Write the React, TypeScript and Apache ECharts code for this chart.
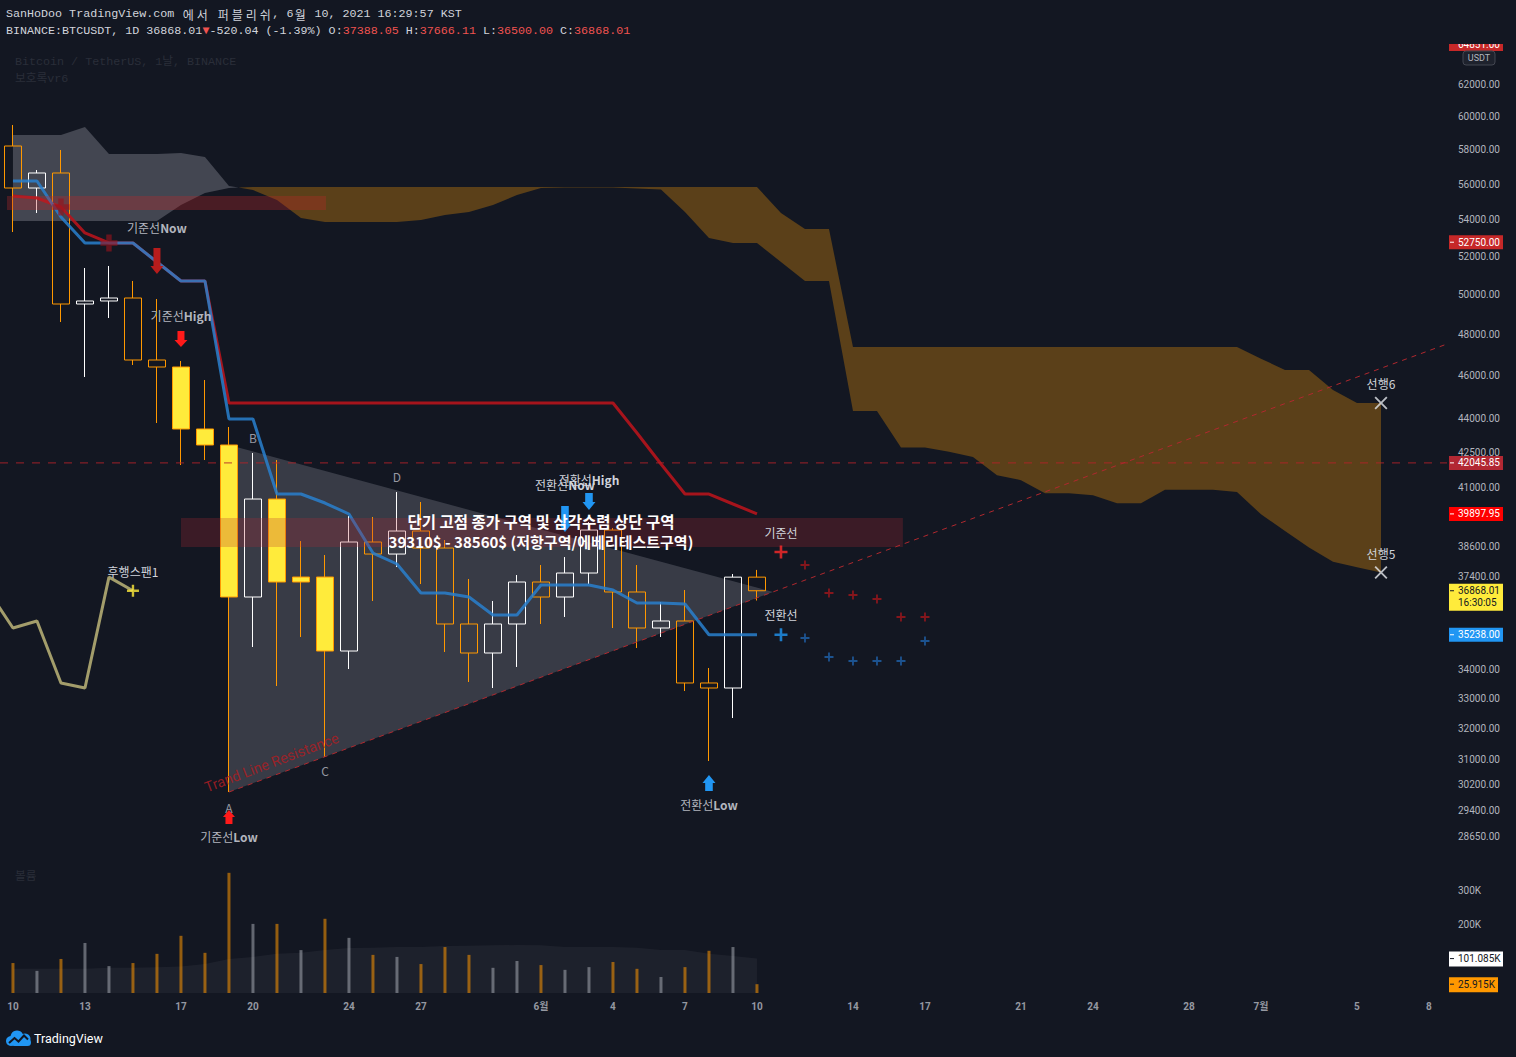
import React, { useEffect, useRef } from "react";
import * as echarts from "echarts";

// ---------------- data ----------------
const candleDays = [0, 1, 2, 3, 4, 5, 6, 7, 8, 9, 10, 11, 12, 13, 14, 15, 16, 17, 18, 19, 20, 21, 22, 23, 24, 25, 26, 27, 28, 29, 30, 31];
const opens = [58232, 55772, 56639, 49504, 49657, 49810, 46735, 46400, 43536, 42826, 36632, 40513, 37201, 37392, 34654, 38762, 38286, 39202, 38523, 35630, 34583, 35630, 37201, 36632, 37546, 39242, 36821, 35483, 35740, 33534, 33361, 37388.05];
const closes = [55772, 56639, 49504, 49657, 49810, 46735, 46400, 43536, 42826, 36632, 40513, 37201, 37392, 34654, 38762, 38286, 39202, 38523, 35630, 34583, 35630, 37201, 36632, 37546, 39242, 36821, 35483, 35740, 33534, 33361, 37388.05, 36868.01];
const highs = [59503, 56813, 57994, 51370, 51476, 50689, 49759, 46687, 45784, 43625, 42475, 42170, 38801, 38247, 39811, 39770, 40805, 40389, 38841, 37315, 36482, 37469, 37856, 38168, 39567, 39323, 37856, 36444, 36897, 34054, 37508, 37666.11];
const lows = [53306, 54358, 48596, 45926, 48797, 46496, 43805, 41954, 42170, 29979, 34797, 33430, 35157, 31077, 34019, 36482, 37778, 37124, 34619, 33568, 33361, 34090, 35630, 35887, 37124, 35483, 34761, 35157, 33259, 30950, 32348, 36500];
const highlightedBars = [7, 8, 9, 11, 12, 13];

const tenkan = [56176, 56176, 54135, 52708, 52708, 52708, 51688, 50689, 50689, 43985, 43985, 40722, 40722, 40347, 39894, 38326, 37896, 36783, 36783, 36632, 35961, 35961, 37087, 37087, 37087, 36897, 36407, 36407, 36370, 35238, 35238, 35238];
const kijun = [55316, 55202, 54694, 53252, 52708, 52708, 51688, 50689, 50689, 44715, 44715, 44715, 44715, 44715, 44715, 44715, 44715, 44715, 44715, 44715, 44715, 44715, 44715, 44715, 44715, 44715, 43357, 41997, 40722, 40722, 40306, 39897.95];

const spanA = [58894, 58894, 58894, 59381, 57756, 57756, 57756, 57815, 57578, 55887, 55658, 55089, 54079, 53857, 53857, 53857, 53857, 53967, 54246, 54414, 54806, 55373, 55772, 55800, 55800, 55800, 55746, 55689, 54415, 52980, 52708, 52708, 51688, 50689, 50689, 44350, 44350, 42718, 42718, 42531, 42305, 41520, 41306, 40749, 40749, 40674, 40338, 40338, 40901, 40901, 40901, 40806, 39882, 39202, 38546, 37980, 37772, 37568];
const spanB = [53912, 53912, 53912, 53912, 53912, 53912, 53912, 54806, 55486, 55772, 55830, 55830, 55830, 55830, 55830, 55830, 55830, 55830, 55830, 55830, 55830, 55830, 55830, 55830, 55830, 55830, 55830, 55830, 55830, 55830, 55830, 55830, 54358, 53471, 53471, 47364, 47364, 47364, 47364, 47364, 47364, 47364, 47364, 47364, 47364, 47364, 47364, 47364, 47364, 47364, 47364, 47364, 46800, 46258, 46258, 45316, 44715, 44715];

const futureDays = [32, 33, 34, 35, 36, 37, 38];
const futureKijun = [38366, 37856, 36783, 36707, 36557, 35887, 35887];
const futureTenkan = [35238, 35120, 34441, 34300, 34300, 34300, 35013];

const volumes = [88000, 65000, 100000, 147000, 79000, 88000, 115000, 168000, 118000, 353000, 203000, 203000, 126000, 218000, 162000, 112000, 106000, 85000, 135000, 112000, 74000, 94000, 82000, 68000, 76000, 91000, 71000, 47000, 76000, 124000, 135000, 25915];
const volumeMA = [71000, 71000, 71000, 71000, 74000, 74000, 76000, 78000, 85000, 100000, 106000, 115000, 118000, 126000, 132000, 133000, 135000, 135000, 138000, 139000, 140000, 141000, 140000, 135000, 135000, 135000, 133000, 126000, 126000, 115000, 109000, 101085];

const tickDays = [0, 3, 7, 10, 14, 17, 22, 25, 28, 31, 35, 38, 42, 45, 49, 52, 56, 59];
const tickLabels = ["10", "13", "17", "20", "24", "27", "6월", "4", "7", "10", "14", "17", "21", "24", "28", "7월", "5", "8"];
const priceTicks = [62000, 60000, 58000, 56000, 54000, 52000, 50000, 48000, 46000, 44000, 42500, 41000, 38600, 37400, 34000, 33000, 32000, 31000, 30200, 29400, 28650];
const volumeTicks = [200000, 300000];

const kijunMarks = [[2, 54694], [4, 52708]];
const triangle = [[9, 42826], [9, 29979], [31.67, 36821]];
const trendLine = [[9, 29979], [59.75, 47510]];
const levelLine = 42045.85;
const resistanceZone = { from: 7, to: 37.08, top: 39730, bottom: 38563 };
const kijunBand = { from: -0.25, to: 13.04, top: 55316, bottom: 54525 };

// ---------------- styles ----------------
const BG = "#131722";
const X_MIN = -0.54;
const X_MAX = 59.75;
const ORANGE = "#ff9800";
const YELLOW = "#ffeb3b";
const GRAY_CLOUD = "#434651";
const BROWN_CLOUD = "#5b4019";
const LABEL = "#b2b5be";
const KR = "'Noto Sans CJK KR', 'Noto Sans', sans-serif";
const MONO = "'Liberation Mono', 'DejaVu Sans Mono', 'Noto Sans CJK KR', monospace";
const PLUS = "path://M4,0H6V4H10V6H6V10H4V6H0V4H4Z";
const PLUS_THICK = "path://M3.4,0H6.6V3.4H10V6.6H6.6V10H3.4V6.6H0V3.4H3.4Z";
const CROSS_X = "path://M1,0L5,4L9,0L10,1L6,5L10,9L9,10L5,6L1,10L0,9L4,5L0,1Z";

function buildOption(): any {
  const chikouDays = [-1, 0, 1, 2, 3, 4, 5];
  const chikou = chikouDays.map((d, i) => [d, closes[25 + i]]);
  return {
    animation: false,
    backgroundColor: BG,
    grid: [
      { left: 0, right: 69, top: 44, height: 816 },
      { left: 0, right: 69, top: 865, height: 128 },
    ],
    xAxis: [
      { type: "value", gridIndex: 0, min: X_MIN, max: X_MAX, show: false },
      {
        type: "value", gridIndex: 1, min: X_MIN, max: X_MAX,
        axisLine: { show: false }, axisTick: { show: false }, splitLine: { show: false },
        axisLabel: {
          customValues: tickDays,
          formatter: (v: number) => { const i = tickDays.indexOf(Math.round(v)); return i >= 0 && Math.abs(v - Math.round(v)) < 1e-6 ? tickLabels[i] : ""; },
          color: "#9598a1", fontSize: 10, fontWeight: "bold", fontFamily: "Roboto, " + KR, margin: 8,
        },
      },
    ],
    yAxis: [
      { type: "log", logBase: 10, gridIndex: 0, min: 27956, max: 64668, show: false },
      {
        type: "value", gridIndex: 1, min: 0, max: 376000, position: "right",
        axisLine: { show: false }, axisTick: { show: false }, splitLine: { show: false },
        axisLabel: {
          customValues: volumeTicks,
          formatter: (v: number) => (volumeTicks.includes(v) ? v / 1000 + "K" : ""),
          color: LABEL, fontSize: 10, fontFamily: "Roboto", margin: 11,
        },
      },
    ],
    series: [
      {
        type: "custom", name: "cloud", xAxisIndex: 0, yAxisIndex: 0, z: 1, silent: true,
        data: [[0, spanA[0]]],
        renderItem: (_p: any, api: any) => {
          const n = spanA.length;
          const pa = spanA.map((v, d) => api.coord([d, v]));
          const pb = spanB.map((v, d) => api.coord([d, v]));
          const polys: any[] = [];
          let sign = Math.sign(spanA[0] - spanB[0]) || 1;
          let runA: number[][] = [pa[0]];
          let runB: number[][] = [pb[0]];
          for (let d = 1; d < n; d++) {
            const s = Math.sign(spanA[d] - spanB[d]) || sign;
            if (s !== sign) {
              const da = pa[d - 1][1] - pb[d - 1][1];
              const db = pa[d][1] - pb[d][1];
              const t = da / (da - db);
              const ip = [pa[d - 1][0] + t * (pa[d][0] - pa[d - 1][0]), pa[d - 1][1] + t * (pa[d][1] - pa[d - 1][1])];
              runA.push(ip); runB.push(ip);
              polys.push({ sign, pts: runA.concat(runB.slice().reverse()) });
              runA = [ip]; runB = [ip]; sign = s;
            }
            runA.push(pa[d]); runB.push(pb[d]);
          }
          polys.push({ sign, pts: runA.concat(runB.slice().reverse()) });
          return {
            type: "group",
            children: polys.map((p) => ({ type: "polygon", shape: { points: p.pts }, style: { fill: p.sign > 0 ? GRAY_CLOUD : BROWN_CLOUD } })),
          };
        },
      },
      {
        type: "custom", name: "triangle", xAxisIndex: 0, yAxisIndex: 0, z: 1, silent: true,
        data: [[triangle[0][0], triangle[0][1]]],
        renderItem: (_p: any, api: any) => ({
          type: "polygon", shape: { points: triangle.map((pt) => api.coord(pt)) }, style: { fill: "rgba(120,123,134,0.37)" },
        }),
      },
      {
        type: "candlestick", name: "BTCUSDT", xAxisIndex: 0, yAxisIndex: 0, z: 2, barWidth: 18,
        encode: { x: 0, y: [1, 2, 3, 4] },
        itemStyle: { color: "rgba(0,0,0,0)", color0: "rgba(0,0,0,0)", borderColor: "#ffffff", borderColor0: ORANGE, borderWidth: 1 },
        data: candleDays.map((d, i) => {
          const item: any = { value: [d, opens[i], closes[i], lows[i], highs[i]] };
          if (highlightedBars.includes(i)) item.itemStyle = { color: YELLOW, color0: YELLOW, borderColor: ORANGE, borderColor0: ORANGE };
          return item;
        }),
      },
      {
        type: "line", name: "기준선", xAxisIndex: 0, yAxisIndex: 0, z: 3, showSymbol: false, symbol: "none",
        lineStyle: { color: "rgba(183,20,28,0.9)", width: 3 },
        data: kijun.map((v, i) => [candleDays[i], v]),
      },
      {
        type: "line", name: "전환선", xAxisIndex: 0, yAxisIndex: 0, z: 3, showSymbol: false, symbol: "none",
        lineStyle: { color: "rgba(41,128,206,0.85)", width: 3 },
        data: tenkan.map((v, i) => [candleDays[i], v]),
      },
      {
        type: "line", name: "후행스팬", xAxisIndex: 0, yAxisIndex: 0, z: 3, showSymbol: false, symbol: "none",
        lineStyle: { color: "#a39d6b", width: 3 },
        data: chikou,
      },
      {
        type: "custom", name: "zones", xAxisIndex: 0, yAxisIndex: 0, z: 4, silent: true,
        data: [[resistanceZone.from, resistanceZone.top]],
        renderItem: (_p: any, api: any) => {
          const r = (z: any, fill: string) => {
            const a = api.coord([z.from, z.top]);
            const b = api.coord([z.to, z.bottom]);
            return { type: "rect", shape: { x: a[0], y: a[1], width: b[0] - a[0], height: b[1] - a[1] }, style: { fill } };
          };
          const t0 = api.coord(trendLine[0]);
          const t1 = api.coord(trendLine[1]);
          const h0 = api.coord([X_MIN, levelLine]);
          const h1 = api.coord([X_MAX, levelLine]);
          return {
            type: "group",
            children: [
              r(resistanceZone, "rgba(178,40,51,0.25)"),
              r(kijunBand, "rgba(190,40,40,0.32)"),
              { type: "line", shape: { x1: t0[0], y1: t0[1], x2: t1[0], y2: t1[1] }, style: { stroke: "#b0282e", lineWidth: 1, lineDash: [5, 5] } },
              { type: "line", shape: { x1: h0[0], y1: h0[1], x2: h1[0], y2: h1[1] }, style: { stroke: "rgba(178,34,40,0.7)", lineWidth: 1.3, lineDash: [8, 8] } },
            ],
          };
        },
      },
      {
        type: "scatter", name: "futureKijun", xAxisIndex: 0, yAxisIndex: 0, z: 5, symbol: PLUS,
        symbolSize: (_v: any, p: any) => (p.dataIndex === 0 ? 13 : 9),
        itemStyle: { color: (p: any) => (p.dataIndex === 0 ? "#ff2a2a" : "#a3161b") },
        data: futureDays.map((d, i) => [d, futureKijun[i]]),
      },
      {
        type: "scatter", name: "futureTenkan", xAxisIndex: 0, yAxisIndex: 0, z: 5, symbol: PLUS,
        symbolSize: (_v: any, p: any) => (p.dataIndex === 0 ? 13 : 9),
        itemStyle: { color: (p: any) => (p.dataIndex === 0 ? "#2196f3" : "#1f63ad") },
        data: futureDays.map((d, i) => [d, futureTenkan[i]]),
      },
      {
        type: "scatter", name: "kijunMarks", xAxisIndex: 0, yAxisIndex: 0, z: 5, symbol: PLUS_THICK, symbolSize: 17,
        itemStyle: { color: "rgba(150,18,28,0.8)" },
        data: kijunMarks,
      },
      {
        type: "scatter", name: "chikouEnd", xAxisIndex: 0, yAxisIndex: 0, z: 5, symbol: PLUS, symbolSize: 12,
        itemStyle: { color: YELLOW },
        data: [chikou[chikou.length - 1]],
      },
      {
        type: "scatter", name: "spanEnds", xAxisIndex: 0, yAxisIndex: 0, z: 5, symbol: CROSS_X, symbolSize: 13,
        itemStyle: { color: "#e6e8ee" },
        data: [[spanA.length - 1, spanB[spanB.length - 1]], [spanA.length - 1, spanA[spanA.length - 1]]],
      },
      {
        type: "line", name: "volMA", xAxisIndex: 1, yAxisIndex: 1, z: 1, showSymbol: false, symbol: "none",
        lineStyle: { width: 0 }, areaStyle: { color: "rgba(120,123,134,0.15)" },
        data: volumeMA.map((v, i) => [candleDays[i], v]),
      },
      {
        type: "bar", name: "볼륨", xAxisIndex: 1, yAxisIndex: 1, z: 2, barWidth: 3,
        data: volumes.map((v, i) => ({
          value: [candleDays[i], v],
          itemStyle: { color: closes[i] >= opens[i] ? "rgba(178,181,190,0.5)" : "rgba(255,152,0,0.55)" },
        })),
      },
    ],
  };
}

function buildGraphics(chart: any): any[] {
  const P = (d: number, v: number) => chart.convertToPixel({ gridIndex: 0 }, [d, v]);
  const Y = (v: number) => chart.convertToPixel({ yAxisIndex: 0 }, v);
  const YV = (v: number) => chart.convertToPixel({ yAxisIndex: 1 }, v);
  const els: any[] = [];
  const text = (x: number, y: number, t: string, fill: string, font: string, align = "left", extra: any = {}) => ({
    type: "text", x, y, z: 100, ...extra,
    style: { text: t, fill, font, align, textAlign: align, verticalAlign: "middle", textVerticalAlign: "middle", ...(extra.style || {}) },
  });

  // header (hangul drawn as double-width cells like the monospace source)
  const monoRich = (s: string, cls: string) =>
    Array.from(s).map((ch) => (/[\uac00-\ud7a3]/.test(ch) ? `{h|${ch}}` : `{${cls}|${ch}}`)).join("");
  const red = "#ef5350";
  const richStyles = {
    w: { fill: "#d1d4dc", color: "#d1d4dc", font: "11.7px " + MONO },
    r: { fill: red, color: red, font: "11.7px " + MONO },
    h: { fill: "#d1d4dc", color: "#d1d4dc", font: "12px " + KR, width: 14, align: "center" },
  };
  const line1 = "SanHoDoo TradingView.com 에서 퍼블리쉬, 6월 10, 2021 16:29:57 KST";
  els.push({
    type: "text", x: 6, y: 14, z: 100,
    style: { text: monoRich(line1, "w"), verticalAlign: "middle", textVerticalAlign: "middle", rich: richStyles },
  });
  els.push({
    type: "text", x: 6, y: 31, z: 100,
    style: {
      text: "{w|BINANCE:BTCUSDT, 1D 36868.01}{r|▼}{w|-520.04 (-1.39%) O:}{r|37388.05}{w| H:}{r|37666.11}{w| L:}{r|36500.00}{w| C:}{r|36868.01}",
      verticalAlign: "middle", textVerticalAlign: "middle", rich: richStyles,
    },
  });
  els.push(text(15, 62, "Bitcoin / TetherUS, 1날, BINANCE", "#2a2e39", "11.7px " + MONO));
  els.push(text(15, 79, "보호록vr6", "#2a2e39", "11.7px " + MONO));
  els.push(text(15, 877, "볼륨", "#2a2e39", "11.7px " + MONO));

  // price axis labels
  priceTicks.forEach((v) => els.push(text(1458, Y(v), v.toFixed(2), LABEL, "10px Roboto")));

  // top clipped tag
  els.push({ type: "rect", z: 101, shape: { x: 1449, y: 37, width: 54, height: 14 }, style: { fill: "#c62828" } });
  els.push(text(1458, 44, "64851.00", "#ffffff", "10px Roboto", "left", { z: 102 }));
  els.push({ type: "rect", z: 103, shape: { x: 1440, y: 30, width: 76, height: 14 }, style: { fill: BG } });
  // USDT box
  els.push({ type: "rect", z: 104, shape: { x: 1463, y: 51, width: 32, height: 14, r: 3 }, style: { fill: "#1e222d", stroke: "#434651", lineWidth: 1 } });
  els.push(text(1479, 58, "USDT", LABEL, "9px Roboto", "center", { z: 105 }));

  const tag = (y: number, label: string, bg: string, fg: string, w = 54) => {
    els.push({ type: "rect", z: 110, shape: { x: 1449, y: y - 7, width: w, height: 14 }, style: { fill: bg } });
    els.push({ type: "line", z: 111, shape: { x1: 1450, y1: y, x2: 1454, y2: y }, style: { stroke: fg, lineWidth: 1 } });
    els.push(text(1458, y, label, fg, "10px Roboto", "left", { z: 111 }));
  };
  tag(Y(52750), "52750.00", "#c62828", "#ffffff");
  tag(Y(levelLine), "42045.85", "#b22833", "#ffffff");
  tag(Y(kijun[kijun.length - 1]), "39897.95", "#ff0000", "#ffffff");
  tag(Y(tenkan[tenkan.length - 1]), "35238.00", "#2196f3", "#ffffff");
  const lastY = Y(closes[closes.length - 1]);
  els.push({ type: "rect", z: 110, shape: { x: 1449, y: lastY - 7, width: 54, height: 27 }, style: { fill: YELLOW } });
  els.push({ type: "line", z: 111, shape: { x1: 1450, y1: lastY, x2: 1454, y2: lastY }, style: { stroke: BG, lineWidth: 1 } });
  els.push(text(1458, lastY, "36868.01", BG, "10px Roboto", "left", { z: 111 }));
  els.push(text(1458, lastY + 12, "16:30:05", BG, "10px Roboto", "left", { z: 111 }));
  // volume tags
  const vt = (v: number, label: string, bg: string, w: number) => {
    const y = YV(v);
    els.push({ type: "rect", z: 110, shape: { x: 1449, y: y - 7, width: w, height: 15 }, style: { fill: bg } });
    els.push({ type: "line", z: 111, shape: { x1: 1450, y1: y, x2: 1454, y2: y }, style: { stroke: BG, lineWidth: 1 } });
    els.push(text(1458, y, label, BG, "10px Roboto", "left", { z: 111 }));
  };
  vt(volumeMA[volumeMA.length - 1], "101.085K", "#ffffff", 54);
  vt(volumes[volumes.length - 1], "25.915K", ORANGE, 49);

  // annotations (anchored in data space)
  const rich = (d: number, v: number, k: string, b: string, fill = LABEL) => {
    const p = P(d, v);
    els.push({
      type: "text", x: p[0], y: p[1], z: 100,
      style: {
        text: `{k|${k}}{b|${b}}`, align: "center", textAlign: "center", verticalAlign: "middle", textVerticalAlign: "middle",
        rich: { k: { fill, color: fill, font: "12px " + KR }, b: { fill, color: fill, font: "bold 12px " + KR } },
      },
    });
  };
  const plain = (d: number, v: number, t: string, fill = LABEL, font = "12px " + KR) => {
    const p = P(d, v);
    els.push(text(p[0], p[1], t, fill, font, "center"));
  };
  rich(6, 53526, "기준선", "Now");
  rich(7, 48947, "기준선", "High");
  rich(9, 28654, "기준선", "Low");
  rich(23, 41103, "전환선", "Now", "#d1d4dc");
  rich(24, 41316, "전환선", "High", "#d1d4dc");
  rich(29, 29612, "전환선", "Low");
  plain(10, 43137, "B", "#9598a1");
  plain(16, 41443, "D", "#9598a1");
  plain(13, 30665, "C", "#9598a1");
  plain(9, 29521, "A", "#9598a1");
  plain(5, 37623, "후행스팬1", "#d1d4dc");
  plain(32, 39162, "기준선", "#d1d4dc");
  plain(32, 35961, "전환선", "#d1d4dc");
  plain(57, 45643, "선행6", "#d1d4dc");
  plain(57, 38326, "선행5", "#d1d4dc");
  plain(22, 39607, "단기 고점 종가 구역 및 삼각수렴 상단 구역", "#ffffff", "bold 15.5px " + KR);
  plain(22, 38801, "39310$ - 38560$ (저항구역/에베리테스트구역)", "#ffffff", "bold 15px " + KR);
  {
    const p = P(10.79, 30886);
    els.push(text(p[0], p[1], "Trand Line Resistance", "rgba(170,30,36,0.85)", "14.5px Roboto", "center", { rotation: 0.363 }));
  }

  // arrows
  const arrow = (d: number, v: number, dir: number, len: number, color: string, sw = 3.5, hw = 6.5, hh = 8) => {
    const p = P(d, v);
    const s = dir; // 1 = pointing down (tip at p), -1 = pointing up
    const pts = [
      [-sw, -len * s], [sw, -len * s], [sw, -hh * s], [hw, -hh * s], [0, 0], [-hw, -hh * s], [-sw, -hh * s],
    ].map(([x, y]) => [p[0] + x, p[1] + y]);
    els.push({ type: "polygon", z: 99, shape: { points: pts }, style: { fill: color } });
  };
  arrow(6, 51055, 1, 26, "#b71c1c");
  arrow(7, 47364, 1, 16, "#ff1a1a", 3.5, 6.5, 7);
  arrow(9, 29430, -1, 14, "#ff1a1a", 3.5, 6, 7);
  arrow(23, 39162, 1, 26, "#2196f3", 3.8, 6.5, 8);
  arrow(24, 40058, 1, 17, "#2196f3", 3.8, 6.5, 8);
  arrow(29, 30508, -1, 16, "#2196f3", 3.8, 6.5, 8);

  // TradingView logo
  els.push({
    type: "group", x: 6, y: 1030, z: 100,
    children: [
      { type: "circle", shape: { cx: 11, cy: 7, r: 6.5 }, style: { fill: "#2196f3" } },
      { type: "circle", shape: { cx: 19, cy: 9, r: 5.5 }, style: { fill: "#2196f3" } },
      { type: "circle", shape: { cx: 5, cy: 11, r: 5 }, style: { fill: "#2196f3" } },
      { type: "rect", shape: { x: 5, y: 9, width: 20, height: 7, r: 3.5 }, style: { fill: "#2196f3" } },
      { type: "polyline", shape: { points: [[3, 13], [8.5, 8], [12.5, 11.5], [18, 5.5], [22, 9.5]] }, style: { stroke: BG, lineWidth: 2, fill: "none" } },
    ],
  });
  els.push(text(34, 1038, "TradingView", "#ffffff", "12.5px Roboto"));
  return els;
}

export default function App() {
  const ref = useRef<HTMLDivElement>(null);
  useEffect(() => {
    document.body.style.margin = "0";
    document.body.style.background = BG;
    const chart = echarts.init(ref.current as HTMLDivElement, null, { renderer: "svg" });
    chart.setOption(buildOption());
    chart.setOption({ graphic: buildGraphics(chart) });
    return () => chart.dispose();
  }, []);
  return <div ref={ref} style={{ width: 1516, height: 1057 }} />;
}
